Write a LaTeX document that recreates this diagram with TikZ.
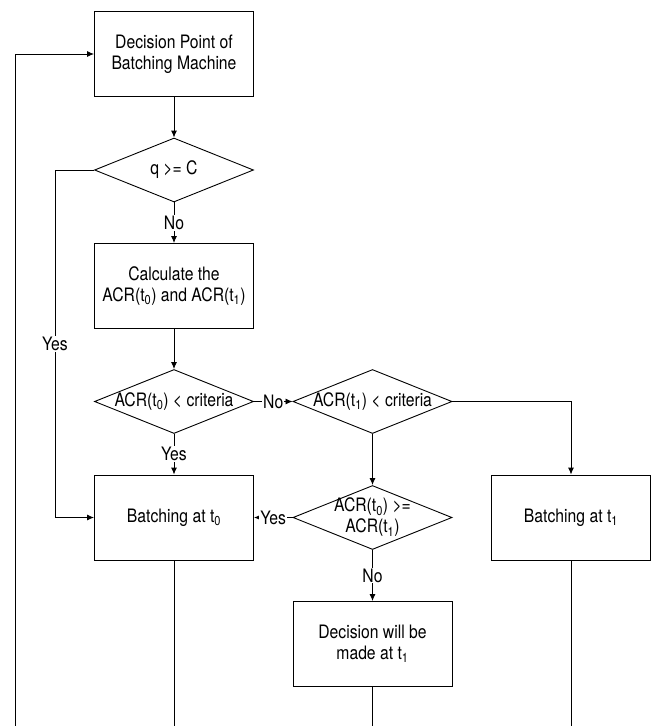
\documentclass[tikz,border=0pt]{standalone}
\usepackage{fontspec}
\setmainfont{TeX Gyre Heros}[FakeStretch=0.85]
\usepackage{tikz}
\usetikzlibrary{positioning,shapes.geometric,arrows.meta}

\begin{document}
\begin{tikzpicture}[x=1pt, y=1pt, node distance=116pt, line width=0.9pt,
  font=\fontsize{18.5}{21}\selectfont,
  >={Latex[length=7pt, width=6pt]},
  box/.style = {draw, minimum width=159pt, minimum height=85pt, align=center},
  decision/.style = {draw, diamond, minimum width=159pt, minimum height=64pt, inner sep=0pt},
  lbl/.style = {fill=white, inner sep=1pt}]
\useasboundingbox (0,0) rectangle (651,-726);

\node[box] (dp) at (174,-54) {Decision Point of\\Batching Machine};
\node[decision, label=center:{q >= C}] (q) [below of=dp] {};
\node[box] (calc) [below of=q] {Calculate the\\ACR(t\textsubscript{0}) and ACR(t\textsubscript{1})};
\node[decision, label=center:{ACR(t\textsubscript{0}) < criteria}] (d1) [below of=calc, node distance=115.5pt] {};
\node[decision, label=center:{ACR(t\textsubscript{1}) < criteria}] (d2) [right of=d1, node distance=198.5pt] {};
\node[box] (bt0) [below of=d1] {Batching at t\textsubscript{0}};
\node[decision, label={[align=center]center:ACR(t\textsubscript{0}) >=\\ACR(t\textsubscript{1})}] (d3) [below of=d2] {};
\node[box] (dec) [below of=d3, node distance=126.5pt] {Decision will be\\made at t\textsubscript{1}};
\node[box] (bt1) [right of=d3, node distance=198.5pt] {Batching at t\textsubscript{1}};

% loose ends at the bottom
\coordinate (qbend) at (55,-170);
\coordinate (loop) at (15,-726);
\coordinate (e0) at (174,-726);
\coordinate (e1) at (372.5,-726);
\coordinate (e2) at (571,-726);

\draw[->] (dp) -- (q);
\draw[->] (q) -- node[lbl] {No} (calc);
\draw[->] (q.west) -- (qbend) |- node[lbl, pos=0.25] {Yes} (bt0.west);
\draw[->] (calc) -- (d1);
\draw[->] (d1) -- node[lbl] {No} (d2);
\draw[->] (d1) -- node[lbl] {Yes} (bt0);
\draw[->] (d2.east) -| (bt1);
\draw[->] (d2) -- (d3);
\draw[->] (d3) -- node[lbl] {Yes} (bt0);
\draw[->] (d3) -- node[lbl] {No} (dec);
\draw (bt0) -- (e0);
\draw (dec) -- (e1);
\draw (bt1) -- (e2);
\draw[->] (loop) |- (dp.west);
\end{tikzpicture}
\end{document}
